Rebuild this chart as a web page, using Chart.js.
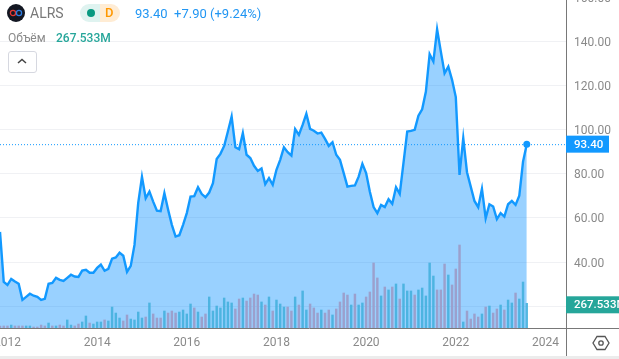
<!DOCTYPE html>
<html>
<head>
<meta charset="utf-8">
<script src="https://cdn.jsdelivr.net/npm/chart.js@4"></script>
<style>
    html, body { margin: 0; padding: 0; background: #fff; overflow: hidden; width: 619px; height: 359px; }
    body { position: relative; font-family: Roboto, sans-serif; }
    #priceChart { position: absolute; left: 0; top: -3px; }
    .txt { position: absolute; white-space: nowrap; line-height: 16px; }
    .strip { position: absolute; left: 0; top: 356px; width: 619px; height: 3px; background: #ececec; }
</style>
</head>
<body>
<canvas id="priceChart" width="619" height="362"></canvas>

<!-- шапка графика -->
<svg style="position:absolute;left:7px;top:4px" width="18" height="18">
    <circle cx="9" cy="9" r="9" fill="#131722"/>
    <circle cx="6" cy="9" r="2.6" fill="none" stroke="#e53935" stroke-width="1.3"/>
    <circle cx="12" cy="9" r="2.6" fill="none" stroke="#2f7de1" stroke-width="1.3"/>
</svg>
<div class="txt" style="left:30px;top:5px;font-size:14px;color:#787878">ALRS</div>
<div style="position:absolute;left:80px;top:4px;width:20px;height:18px;background:#dff3f0;border-radius:9px 0 0 9px"></div>
<div style="position:absolute;left:100px;top:4px;width:20px;height:18px;background:#ffecd4;border-radius:0 9px 9px 0"></div>
<div style="position:absolute;left:87px;top:9px;width:8px;height:8px;background:#089981;border-radius:50%"></div>
<div class="txt" style="left:105px;top:5px;font-size:13px;font-weight:500;color:#ff9800">D</div>
<div class="txt" style="left:135px;top:6px;font-size:13px;color:#2196f3">93.40&nbsp; +7.90 (+9.24%)</div>
<div class="txt" style="left:8px;top:30px;font-size:12px;color:#8a8a8a">Объём</div>
<div class="txt" style="left:56px;top:30px;font-size:12px;font-weight:500;color:#26a69a">267.533M</div>
<div style="position:absolute;left:8px;top:51px;width:27px;height:20px;border:1px solid #d6d8e0;border-radius:3px;background:#fff"></div>
<svg style="position:absolute;left:16px;top:57px" width="12" height="8">
    <path d="M2 6 L6 2.5 L10 6" fill="none" stroke="#444" stroke-width="1.5"/>
</svg>
<svg style="position:absolute;left:592px;top:334px" width="18" height="18">
    <path d="M5 2.5 H13 L17 9 L13 15.5 H5 L1 9 Z" fill="none" stroke="#555" stroke-width="1.3"/>
    <circle cx="9" cy="9" r="2.2" fill="none" stroke="#555" stroke-width="1.3"/>
</svg>
<div class="strip"></div>

<script>
// месяцы с ноября 2011 по август 2023
const months = [];
for (let y = 2011, m = 11; y < 2023 || m <= 8; m++) {
    if (m > 12) { m = 1; y++; }
    months.push(`${y}-${String(m).padStart(2, '0')}`);
}

const prices = [
    53.7, 31.1, 29.7, 32.4, 31.2, 30.2, 22.9, 24.3, 25.7, 24.8, 24.3, 22.9, 23.4, 30.2,
    30.6, 32.9, 32.0, 31.5, 32.9, 34.3, 33.5, 33.3, 36.2, 36.5, 35.2, 35.2,
    37.4, 38.9, 36.1, 37.0, 41.6, 42.1, 44.3, 42.9, 35.6, 38.3, 47.8, 66.8,
    78.6, 68.9, 71.9, 67.4, 63.3, 63.1, 71.2, 63.7, 56.9, 51.6, 52.2, 56.9,
    62.2, 69.7, 69.9, 73.9, 70.8, 69.4, 71.5, 75.7, 86.7, 89.0, 92.6, 99.1,
    105.9, 92.0, 91.1, 98.4, 88.6, 87.1, 83.6, 81.3, 82.4, 75.3, 78.0, 75.0,
    81.8, 86.3, 92.0, 89.8, 88.2, 100.2, 97.6, 102.1, 107.1, 100.3, 99.5, 98.2,
    98.6, 95.8, 92.6, 94.3, 88.6, 86.3, 80.3, 74.2, 74.5, 74.7, 78.7, 84.5,
    80.3, 71.9, 64.9, 62.2, 65.9, 64.9, 68.5, 66.4, 73.9, 70.9, 84.9, 99.1,
    99.4, 99.9, 106.3, 109.2, 117.2, 134.1, 130.8, 145.4, 135.3, 125.5, 128.5, 122.5,
    114.7, 79.5, 96.1, 80.7, 74.2, 67.7, 64.9, 73.2, 59.9, 66.2, 65.2, 59.5,
    62.2, 60.6, 66.2, 67.7, 65.9, 70.1, 85.5, 93.40
];

// объём, млн
const volumes = [
    22, 22, 22, 32, 22, 22, 22, 22, 22, 11, 11, 32, 22, 54,
    22, 22, 32, 22, 87, 32, 22, 43, 65, 130, 54, 43,
    65, 65, 87, 76, 227, 162, 108, 76, 141, 97, 87, 173,
    108, 119, 271, 152, 108, 108, 184, 162, 184, 162, 173, 195,
    152, 260, 217, 173, 119, 152, 336, 184, 238, 217, 325, 282,
    271, 206, 314, 325, 292, 325, 368, 357, 282, 249, 336, 184,
    303, 260, 227, 227, 184, 336, 249, 401, 195, 260, 217, 162,
    195, 162, 195, 141, 206, 282, 379, 357, 249, 368, 249, 271,
    336, 390, 704, 542, 347, 444, 412, 444, 477, 314, 477, 401,
    401, 357, 412, 433, 347, 704, 563, 412, 412, 693, 574, 466,
    639, 899, 65, 184, 97, 152, 119, 152, 227, 238, 162, 206,
    249, 195, 303, 271, 379, 314, 498, 267.533
];

// 1 - рост (голубой), 0 - падение (сиреневый)
const volumeUp = [
    0, 0, 0, 1, 0, 0, 0, 1, 1, 0, 0, 0, 0, 1,
    0, 1, 0, 0, 1, 1, 0, 0, 1, 1, 0, 1,
    1, 1, 0, 1, 1, 1, 1, 0, 0, 1, 1, 1,
    1, 0, 1, 0, 0, 0, 1, 0, 0, 0, 1, 1,
    1, 1, 0, 1, 0, 0, 1, 1, 1, 1, 1, 1,
    1, 0, 0, 1, 0, 0, 0, 0, 1, 0, 1, 0,
    1, 1, 1, 0, 0, 1, 0, 1, 1, 0, 0, 0,
    1, 0, 0, 1, 0, 0, 0, 0, 1, 0, 1, 1,
    0, 0, 0, 0, 1, 0, 1, 0, 1, 0, 1, 1,
    1, 0, 1, 1, 1, 1, 1, 0, 0, 0, 1, 0,
    0, 0, 1, 0, 0, 0, 0, 1, 0, 1, 0, 0,
    1, 0, 1, 1, 0, 1, 1, 1
];

const priceTicks = [20, 40, 60, 80, 100, 120, 140, 160];
const yearLabels = ['2012', '2014', '2016', '2018', '2020', '2022', '2024'];

const lineColor = '#1299ff';
const volumeTag = '#26a69a';
const axisColor = '#787878';
const tickColor = '#8a8a8a';
const tickFont = { family: 'Roboto, sans-serif', size: 12 };

// январь года -> позиция на оси X (индекс месяца, 2012-01 = 2)
function yearToIndex(label) {
    return (Number(label) - 2011) * 12 - 10;
}

// оси, пунктир цены и плашки справа
const priceOverlay = {
    id: 'priceOverlay',
    afterDatasetsDraw(chart) {
        const { ctx, chartArea, scales } = chart;
        const last = prices.length - 1;
        const priceY = scales.y.getPixelForValue(prices[last]);
        const volY = scales.volume.getPixelForValue(volumes[last]);
        ctx.save();

        ctx.strokeStyle = lineColor;
        ctx.lineWidth = 1;
        ctx.setLineDash([1, 2]);
        ctx.beginPath();
        ctx.moveTo(0, priceY + 0.5);
        ctx.lineTo(chartArea.right, priceY + 0.5);
        ctx.stroke();
        ctx.setLineDash([]);

        ctx.strokeStyle = axisColor;
        ctx.beginPath();
        ctx.moveTo(0, chartArea.bottom + 0.5);
        ctx.lineTo(chart.width, chartArea.bottom + 0.5);
        ctx.moveTo(chartArea.right + 0.5, 0);
        ctx.lineTo(chartArea.right + 0.5, 359);
        ctx.stroke();

        ctx.font = '500 11.5px Roboto, sans-serif';
        ctx.textBaseline = 'middle';
        ctx.textAlign = 'left';

        ctx.fillStyle = lineColor;
        ctx.fillRect(chartArea.right, priceY - 8.5, 43, 17);
        ctx.fillStyle = '#fff';
        ctx.fillText(prices[last].toFixed(2), chartArea.right + 8, priceY + 1);

        ctx.fillStyle = volumeTag;
        ctx.fillRect(chartArea.right, volY - 7, 53, 17);
        ctx.fillStyle = '#fff';
        ctx.fillText(volumes[last].toFixed(3) + 'M', chartArea.right + 8, volY + 2);
        ctx.restore();
    }
};

new Chart(document.getElementById('priceChart').getContext('2d'), {
    type: 'bar',
    data: {
        datasets: [
            {
                type: 'bar',
                yAxisID: 'volume',
                data: volumes.map((v, i) => ({ x: i, y: v })),
                backgroundColor: volumeUp.map(u => (u ? 'rgba(64, 175, 220, 0.85)' : 'rgba(155, 155, 200, 0.9)')),
                barThickness: 1.8,
                order: 1
            },
            {
                type: 'line',
                yAxisID: 'y',
                data: prices.map((v, i) => ({ x: i, y: v })),
                borderColor: lineColor,
                borderWidth: 2.4,
                backgroundColor: 'rgba(0, 140, 255, 0.4)',
                fill: 'start',
                tension: 0,
                pointRadius: prices.map((v, i) => (i === prices.length - 1 ? 3.5 : 0)),
                pointBackgroundColor: lineColor,
                pointBorderWidth: 0,
                order: 2
            }
        ]
    },
    options: {
        responsive: false,
        animation: false,
        layout: { padding: 0, autoPadding: false },
        plugins: { legend: { display: false }, tooltip: { enabled: false } },
        scales: {
            x: {
                type: 'linear',
                min: 0,
                max: 151.5,
                offset: false,
                grid: { display: false, offset: false, drawTicks: false },
                border: { display: false },
                ticks: {
                    autoSkip: false,
                    maxRotation: 0,
                    padding: 8,
                    color: tickColor,
                    font: tickFont,
                    callback: value => String(2012 + (value - 2) / 12)
                },
                afterBuildTicks: scale => {
                    scale.ticks = yearLabels.map(l => ({ value: yearToIndex(l) }));
                },
                afterFit: scale => {
                    scale.height = 31;
                    scale.paddingLeft = 0;
                    scale.paddingRight = 0;
                }
            },
            y: {
                position: 'right',
                min: 10.2,
                max: 160,
                grid: { color: '#f0f1f4', drawTicks: false },
                border: { display: false },
                ticks: {
                    autoSkip: false,
                    padding: 8,
                    color: tickColor,
                    // пустая первая строка опускает подпись на 1.5px к линии сетки
                    font: { ...tickFont, lineHeight: 0.25 },
                    callback: value => ['', value.toFixed(2)]
                },
                afterBuildTicks: scale => {
                    scale.ticks = priceTicks.map(v => ({ value: v }));
                },
                afterFit: scale => {
                    scale.width = 53;
                    scale.paddingTop = 0;
                    scale.paddingBottom = 0;
                }
            },
            volume: {
                display: false,
                min: 0,
                max: 3585
            }
        }
    },
    plugins: [priceOverlay]
});
</script>
</body>
</html>
